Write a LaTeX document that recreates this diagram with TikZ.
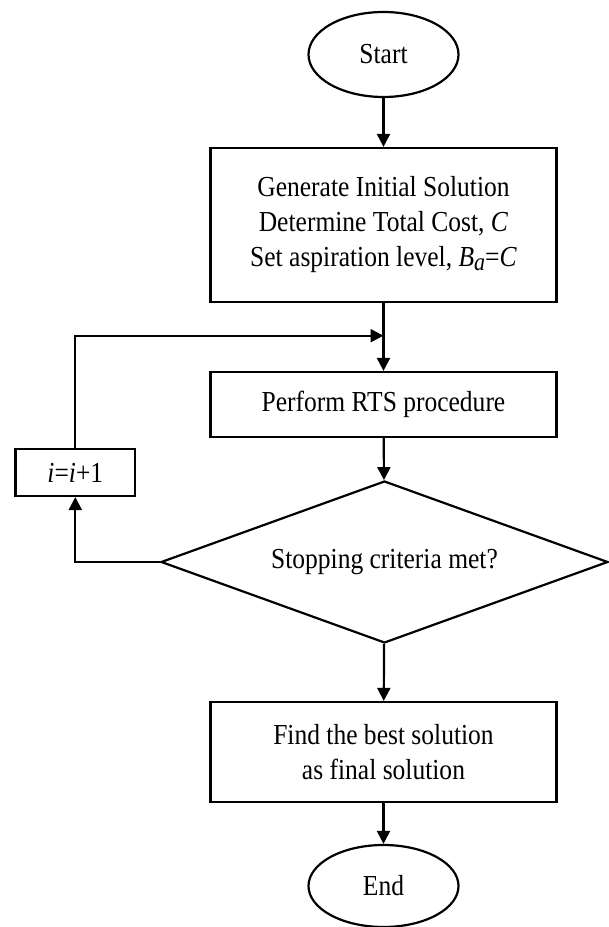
\documentclass[tikz,border=0pt]{standalone}
\usepackage{fontspec}
\setmainfont{Liberation Serif}[FakeStretch=0.88]
\usetikzlibrary{shapes.geometric,arrows.meta}
\begin{document}
\begin{tikzpicture}[x=1pt,y=1pt,
  every node/.style={font=\fontsize{29}{35}\selectfont, align=center, inner sep=0pt},
  terminal/.style={draw, ellipse, line width=2.2pt, minimum width=150pt, minimum height=85pt},
  procbox/.style={draw, rectangle, line width=2.2pt, minimum width=346pt},
  decision/.style={draw, diamond, shape aspect=2.76, line width=2.2pt, minimum width=447pt, minimum height=162pt},
  conn/.style={line width=2.2pt, -{Triangle[width=13pt,length=13pt]}}]
\useasboundingbox (0,0) rectangle (609,927);
\node[terminal] (start) at (383.5,872.5) {Start};
\node[procbox, minimum height=154pt] (init) at (383.5,702) {Generate Initial Solution\\Determine Total Cost, \textit{C}\\Set aspiration level, \textit{B}{\fontsize{25}{25}\selectfont\raisebox{-0.3ex}{\textit{a}}}=\textit{C}};
\node[procbox, minimum height=65pt] (rts) at (383.5,522.5) {Perform RTS procedure};
\node[decision] (dec) at (384.5,365) {Stopping criteria met?};
\node[draw, rectangle, line width=2.2pt, minimum width=119.5pt, minimum height=47pt] (inc) at (75.3,454.5) {\textit{i}=\textit{i}+1};
\node[procbox, minimum height=100pt] (find) at (383.5,175) {Find the best solution\\as final solution};
\node[terminal, minimum height=82pt] (end) at (383.5,41) {End};
\coordinate (j) at (383.5,591.3);
\draw[conn] (start) -- (init);
\draw[conn] (init) -- (rts);
\draw[conn] (rts) -- (dec);
\draw[conn] (dec) -- (find);
\draw[conn] (find) -- (end);
\draw[conn] (dec.west) -| (inc.south);
\draw[conn] (inc.north) |- (j);
\end{tikzpicture}
\end{document}
